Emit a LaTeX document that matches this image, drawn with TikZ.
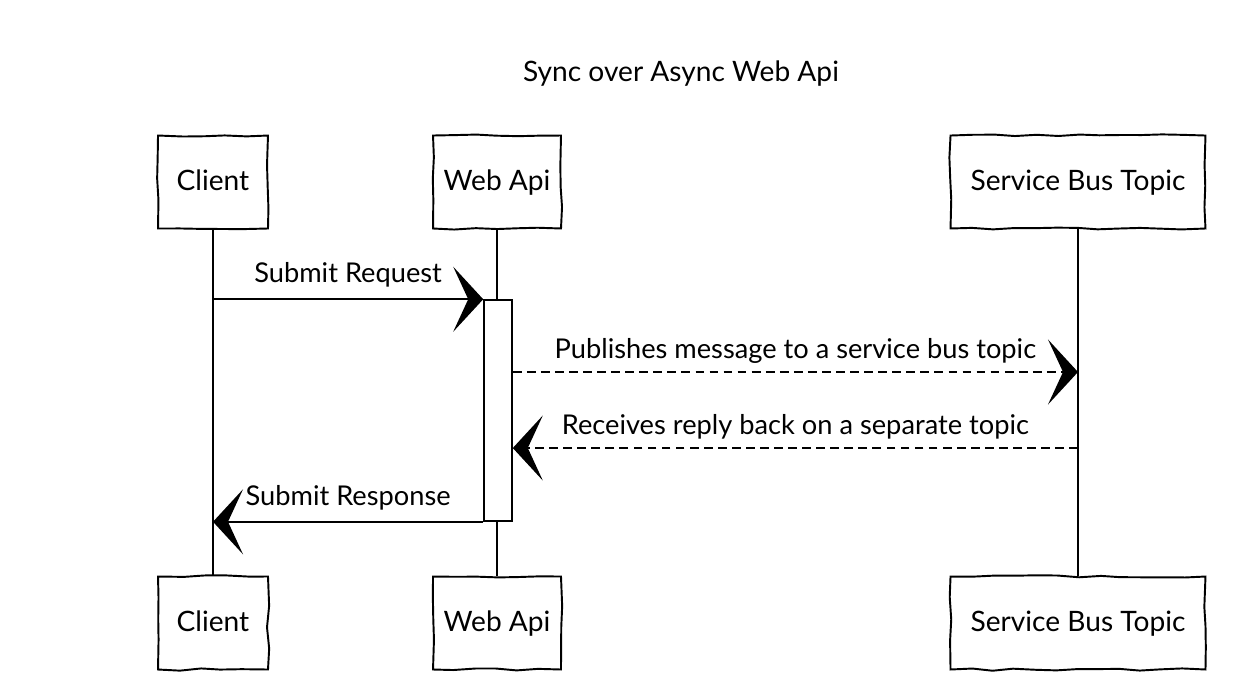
\documentclass[tikz,border=0pt]{standalone}
\usepackage{fontspec}
\setmainfont{Lato}
\usetikzlibrary{arrows.meta,decorations.pathmorphing}
\pgfmathsetseed{11}
\tikzset{
  actor/.style={draw, line width=1.1pt, minimum height=1.86cm, inner sep=0pt,
    text height=2.1ex, text depth=0.2ex, font=\fontsize{16}{18}\selectfont,
    decorate, decoration={random steps, segment length=12pt, amplitude=0.7pt}},
  life/.style={line width=0.7pt},
  msg/.style={line width=1.1pt, -{Stealth[length=0.6cm, width=1.3cm, inset=0.3cm]}},
  reply/.style={msg, dash pattern=on 5pt off 3pt},
  lbl/.style={font=\fontsize{15.5}{18}\selectfont}
}
\begin{document}
\begin{tikzpicture}[x=0.02cm, y=-0.02cm]
  \useasboundingbox (0,0) rectangle (1239,691);
  \node[font=\fontsize{16}{18}\selectfont] (title) at (681,74) {Sync over Async Web Api};
  % participants, top and bottom
  \node[actor, minimum width=2.2cm]  (client)  at (213,182) {Client};
  \node[actor, minimum width=2.56cm] (webapi)  at (497,182) {Web Api};
  \node[actor, minimum width=5.1cm]  (topic)   at (1078,182) {Service Bus Topic};
  \node[actor, minimum width=2.2cm]  (client2) at (213,623) {Client};
  \node[actor, minimum width=2.56cm] (webapi2) at (497,623) {Web Api};
  \node[actor, minimum width=5.1cm]  (topic2)  at (1078,623) {Service Bus Topic};
  % lifelines
  \draw[life] (client) -- (client2);
  \draw[life] (webapi) -- (webapi2);
  \draw[life] (topic) -- (topic2);
  % activation
  \node[draw, fill=white, line width=0.9pt, minimum width=0.56cm, minimum height=4.42cm,
    inner sep=0pt] (act) at (498,410.5) {};
  % messages
  \coordinate (req) at (client |- act.north);
  \coordinate (pub) at (topic |- 0,372);
  \coordinate (rcv) at (topic |- 0,448);
  \coordinate (resp) at (client |- act.south);
  \draw[msg] (req) -- (act.north west)
    node[lbl, pos=0.5, above=3pt] {Submit Request};
  \draw[reply] (act.east |- pub) -- (pub)
    node[lbl, pos=0.5, above=1pt] {Publishes message to a service bus topic};
  \draw[reply] (rcv) -- (act.east |- rcv)
    node[lbl, pos=0.5, above=1pt] {Receives reply back on a separate topic};
  \draw[msg] (act.south west) -- (resp)
    node[lbl, pos=0.5, above=3pt] {Submit Response};
\end{tikzpicture}
\end{document}
